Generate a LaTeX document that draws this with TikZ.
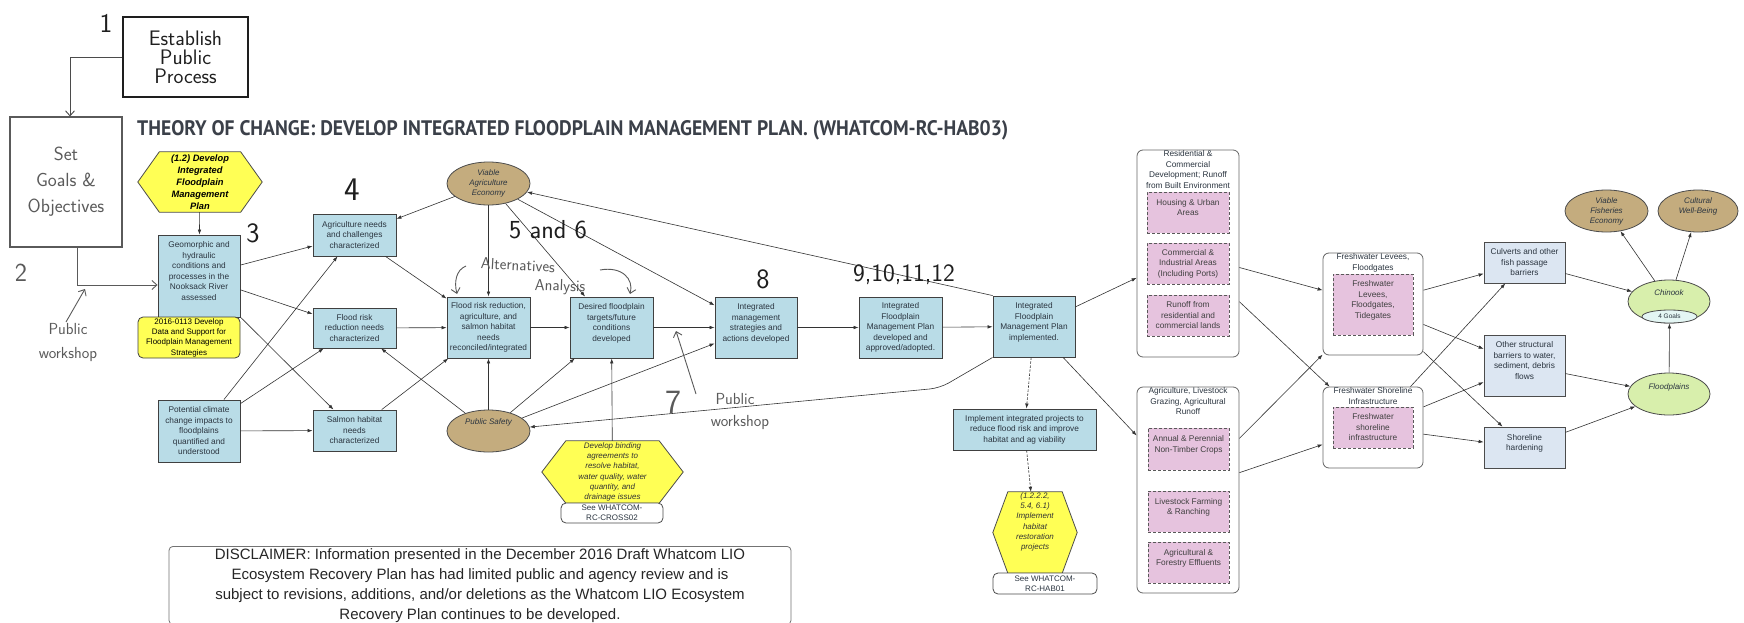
\documentclass[tikz,border=0pt]{standalone}
\usepackage{graphicx}
\usepackage{fontspec}
\setmainfont{Liberation Sans}
\newfontfamily\titlefont{PT Sans}
\usetikzlibrary{arrows.meta,shapes.geometric,calc,backgrounds}
\definecolor{boxblue}{HTML}{B9DCE7}
\definecolor{paleblue}{HTML}{DCE6F2}
\definecolor{ovtan}{HTML}{C4AC7E}
\definecolor{ovgreen}{HTML}{D8EFAC}
\definecolor{goalfill}{HTML}{E4F6F4}
\definecolor{hexyellow}{HTML}{FFFF55}
\definecolor{pinkin}{HTML}{E6C3DE}
\definecolor{linec}{HTML}{333333}
\definecolor{txtc}{HTML}{2B3540}
\definecolor{handc}{HTML}{5A5A5A}
\definecolor{handdark}{HTML}{1E1E1E}
\definecolor{titlec}{HTML}{3B4049}
\newcommand{\xl}{\\\mbox{}}
\newcommand{\hexpoly}[3]{%
  \begin{scope}[on background layer]
  \draw[#3] (#1.west) -- ([xshift=#2pt]#1.north west) -- ([xshift=-#2pt]#1.north east) -- (#1.east)
    -- ([xshift=-#2pt]#1.south east) -- ([xshift=#2pt]#1.south west) -- cycle;
  \end{scope}}
\begin{document}
\begin{tikzpicture}[x=1pt,y=-1pt,
  base/.style={inner sep=0pt, align=center, text=txtc, font=\fontsize{8.3}{10.5}\selectfont},
  sz/.style 2 args={minimum width=#1pt, minimum height=#2pt},
  bbox/.style={base, draw=black!75, line width=0.9pt, fill=boxblue},
  pbox/.style={base, draw=black!70, line width=0.8pt, fill=paleblue},
  grp/.style={draw=black!60, line width=0.8pt, fill=white, rounded corners=6pt, inner sep=0pt},
  gtitle/.style={base, anchor=north},
  pinkbox/.style={base, draw=black!65, dash pattern=on 3pt off 2pt, line width=0.9pt, fill=pinkin, text=black!75},
  oval/.style={ellipse, inner sep=0pt, draw=black!70, line width=0.8pt},
  etext/.style={base, font=\itshape\fontsize{8}{10}\selectfont},
  hexfill/.style={draw=black!70, line width=0.8pt, fill=hexyellow},
  seebox/.style={base, draw=black!70, line width=0.8pt, fill=white, rounded corners=5pt, font=\fontsize{8}{10}\selectfont},
  con/.style={draw=linec, line width=0.6pt, -{Latex[length=5pt,width=3.6pt]}},
  dcon/.style={con, dash pattern=on 2.5pt off 1.5pt},
  harrow/.style={draw=handc, line width=0.9pt, -{Straight Barb[length=5pt,width=9pt]}},
  handbox/.style={draw=#1, line width=1.1pt, inner sep=0pt, align=center, text=#1},
  hand/.style={inner sep=0pt, align=center, text=handdark, font=\sffamily\fontsize{#1}{#1}\selectfont},
  ghand/.style={inner sep=0pt, align=center, text=handc, font=\sffamily\fontsize{#1}{#1}\selectfont}
]
\begin{scope}[on background layer]
\fill[white] (0,0) rectangle (1744,623);
\end{scope}
\useasboundingbox (0,0) rectangle (1744,623);

% ---------- title ----------
\node[anchor=base west, inner sep=0pt, text=titlec] (title) at (137,135)
  {\resizebox{871pt}{15pt}{\titlefont\bfseries THEORY OF CHANGE: DEVELOP INTEGRATED FLOODPLAIN MANAGEMENT PLAN. (WHATCOM-RC-HAB03)}};

% ---------- hand-drawn boxes ----------
\node[handbox=handdark, sz={125}{80}, font=\sffamily\fontsize{21}{19}\selectfont] (establish) at (185.5,57) {Establish\\Public\\Process};
\node[handbox=handc, sz={112}{130}, font=\sffamily\fontsize{19}{26}\selectfont] (setgoals) at (66,182) {Set\\Goals \&\\Objectives};

% ---------- left column ----------
\node[base, sz={124}{60}, font=\bfseries\itshape\fontsize{9.3}{12}\selectfont, text=black] (hex12) at (200,182)
  {(1.2) Develop\\Integrated\\Floodplain\\Management\\Plan};
\hexpoly{hex12}{21.5}{hexfill}
\node[bbox, sz={82}{82}] (geo) at (199,276) {Geomorphic and\\hydraulic\\conditions and\\processes in the\\Nooksack River\\assessed\xl};
\node[base, draw=black!75, line width=0.8pt, fill=hexyellow, rounded corners=5pt, sz={102}{41}, text=black, font=\fontsize{8}{10.3}\selectfont] (data) at (189,337.5)
  {2016-0113 Develop\\Data and Support for\\Floodplain Management\\Strategies};
\node[bbox, sz={82}{62}] (climate) at (199,431) {Potential climate\\change impacts to\\floodplains\\quantified and\\understood};

\node[bbox, sz={83}{42}] (ag) at (354.5,235) {Agriculture needs\\and challenges\\characterized};
\node[bbox, sz={83}{40}] (fneeds) at (354.5,328) {Flood risk\\reduction needs\\characterized};
\node[bbox, sz={83}{41}] (salmon) at (354.5,430.5) {Salmon habitat\\needs\\characterized};

% ---------- ellipses (middle) ----------
\node[oval, fill=ovtan, sz={83}{43}] (vae) at (488.5,183.5) {};
\node[etext] at (488.5,183.5) {Viable\\Agriculture\\Economy};
\node[oval, fill=ovtan, sz={83}{42}] (ps) at (488.5,431) {};
\node[etext] at (488.5,422) {Public Safety};

\node[bbox, sz={83}{61}] (recon) at (488.5,327.5) {Flood risk reduction,\\agriculture, and\\salmon habitat\\needs\\reconciled/integrated};
\node[bbox, sz={83}{61}] (desired) at (611.5,327.5) {Desired floodplain\\targets/future\\conditions\\developed\xl};
\node[bbox, sz={82}{61}] (ims) at (756,327.5) {Integrated\\management\\strategies and\\actions developed\xl};
\node[bbox, sz={83}{61}] (ifdev) at (900.5,327.5) {Integrated\\Floodplain\\Management Plan\\developed and\\approved/adopted.};
\node[bbox, sz={82}{61}] (ifimp) at (1034,326.5) {Integrated\\Floodplain\\Management Plan\\implemented.\xl};

\node[base, sz={141}{62}, font=\itshape\fontsize{8}{10.3}\selectfont, text=black!80] (binding) at (612.5,472)
  {Develop binding\\agreements to\\resolve habitat,\\water quality, water\\quantity, and\\drainage issues};
\hexpoly{binding}{24}{hexfill}
\node[seebox, sz={102}{20}] (seecross) at (612,513) {See WHATCOM-\\RC-CROSS02};

\node[bbox, sz={143}{41}] (implproj) at (1024.5,429.5) {Implement integrated projects to\\reduce flood risk and improve\\habitat and ag viability};
\node[base, sz={84}{81}] (habhex) at (1035,532.5) {};
\hexpoly{habhex}{15}{hexfill}
\node[base, font=\itshape\fontsize{8}{10.3}\selectfont, text=black!80] at (1035,522) {(1.2.2.2,\\5.4, 6.1)\\Implement\\habitat\\restoration\\projects};
\node[seebox, sz={104}{21}] (seehab) at (1045,583.5) {See WHATCOM-\\RC-HAB01};

% ---------- pressure groups ----------
\node[grp, sz={102}{207}] (resgrp) at (1188,253.5) {};
\node[gtitle] at ([yshift=-1pt]resgrp.north) {Residential \&\\Commercial\\Development; Runoff\\from Built Environment};
\node[pinkbox, sz={82}{41}] (housing) at (1188,212.5) {Housing \& Urban\\Areas\xl};
\node[pinkbox, sz={82}{41}] (commercial) at (1188,263.5) {Commercial \&\\Industrial Areas\\(Including Ports)};
\node[pinkbox, sz={82}{41}] (runoff) at (1188,315.5) {Runoff from\\residential and\\commercial lands};

\node[grp, sz={102}{206}] (agrgrp) at (1188,490) {};
\node[gtitle] at ([yshift=-1pt]agrgrp.north) {Agriculture, Livestock\\Grazing, Agricultural\\Runoff};
\node[pinkbox, sz={81}{42}] (annual) at (1188.5,449) {Annual \& Perennial\\Non-Timber Crops\xl};
\node[pinkbox, sz={81}{41}] (livestock) at (1188.5,511.5) {Livestock Farming\\\& Ranching\xl};
\node[pinkbox, sz={81}{41}] (effluents) at (1188.5,562.5) {Agricultural \&\\Forestry Effluents\xl};

\node[grp, sz={100}{102}] (levgrp) at (1373,304) {};
\node[gtitle] at ([yshift=-1pt]levgrp.north) {Freshwater Levees,\\Floodgates};
\node[pinkbox, sz={80}{61}] (levin) at (1373,304.5) {Freshwater\\Levees,\\Floodgates,\\Tidegates\xl};

\node[grp, sz={100}{81}] (shogrp) at (1373,427.5) {};
\node[gtitle] at ([yshift=-1pt]shogrp.north) {Freshwater Shoreline\\Infrastructure};
\node[pinkbox, sz={80}{41}] (shoin) at (1373,427.5) {Freshwater\\shoreline\\infrastructure};

\node[pbox, sz={81}{41}] (culverts) at (1524.5,262.5) {Culverts and other\\fish passage\\barriers};
\node[pbox, sz={81}{61}] (otherstr) at (1524.5,365.5) {Other structural\\barriers to water,\\sediment, debris\\flows\xl};
\node[pbox, sz={81}{41}] (shorehard) at (1524.5,447.5) {Shoreline\\hardening\xl};

% ---------- endpoints ----------
\node[oval, fill=ovgreen, sz={82}{43}] (chinook) at (1669,301.5) {};
\node[etext] at (1669,293) {Chinook};
\node[oval, fill=goalfill, sz={55}{13}] (goals4) at (1669.5,316.5) {};
\node[base, font=\fontsize{6.5}{8}\selectfont] at (1669.5,316.5) {4 Goals};
\node[oval, fill=ovgreen, sz={82}{42}] (floodplains) at (1669,394) {};
\node[etext] at (1669,387) {Floodplains};
\node[oval, fill=ovtan, sz={83}{42}] (vfe) at (1606.5,211) {};
\node[etext] at (1606.5,211) {Viable\\Fisheries\\Economy};
\node[oval, fill=ovtan, sz={80}{42}] (cwb) at (1698,211) {};
\node[etext] at (1698,206) {Cultural\\Well-Being};

% ---------- disclaimer ----------
\node[draw=black!55, line width=0.8pt, rounded corners=4pt, anchor=north, minimum width=622pt, inner xsep=0pt, inner ysep=2pt,
  align=center, font=\fontsize{15}{20}\selectfont, text=black!85] (disc) at (480,546)
  {DISCLAIMER: Information presented in the December 2016 Draft Whatcom LIO\\Ecosystem Recovery Plan has had limited public and agency review and is\\subject to revisions, additions, and/or deletions as the Whatcom LIO Ecosystem\\Recovery Plan continues to be developed.};

% ---------- connectors ----------
\draw[con] (hex12) -- (geo);
\draw[con] (geo) -- (ag);
\draw[con] (geo) -- (fneeds);
\draw[con] (geo) -- (salmon);
\draw[con] (climate) -- (ag);
\draw[con] (climate) -- (fneeds);
\draw[con] (climate) -- (salmon);
\draw[con] (vae) -- (ag);
\draw[con] (ag) -- (recon);
\draw[con] (fneeds) -- (recon);
\draw[con] (salmon) -- (recon);
\draw[con] (ps) -- (fneeds);
\draw[con] (ps) -- (recon);
\draw[con] (vae) -- (recon);
\draw[con] (vae) -- (desired);
\draw[con] (vae) -- (ims);
\draw[con] (ps) -- (desired);
\draw[con] (ps) -- (ims);
\draw[con] (recon) -- (desired);
\draw[con] (desired) -- (ims);
\draw[con] (binding) -- (desired);
\draw[con] (ims) -- (ifdev);
\draw[con] (ifdev) -- (ifimp);
\draw[con] (ifimp.north west) -- (vae);
\coordinate (psbend) at (940,388);
\draw[con, rounded corners=10pt] (ifimp.south west) -- (psbend) -- (ps);
\draw[con] (ifimp) -- (resgrp);
\draw[con] (ifimp) -- (agrgrp);
\draw[dcon] (ifimp) -- (implproj);
\draw[dcon] (implproj) -- (habhex);
\draw[con] (resgrp) -- (levgrp);
\draw[con] (resgrp) -- (shogrp);
\draw[con] (agrgrp) -- (levgrp);
\draw[con] (agrgrp) -- (shogrp);
\draw[con] (levgrp) -- (culverts);
\draw[con] (levgrp) -- (otherstr);
\draw[con] (levgrp) -- (shorehard);
\draw[con] (shogrp) -- (culverts);
\draw[con] (shogrp) -- (otherstr);
\draw[con] (shogrp) -- (shorehard);
\draw[con] (culverts) -- (chinook);
\draw[con] (otherstr) -- (floodplains);
\draw[con] (shorehard) -- (floodplains);
\draw[con] (floodplains) -- (goals4);
\draw[con] (chinook) -- (vfe);
\draw[con] (chinook) -- (cwb);

% ---------- hand-drawn annotations ----------
\coordinate (epb) at (70,57);
\draw[harrow, draw=handdark!80] (establish.west) -- (epb) -- (epb |- setgoals.north);
\coordinate (sgb) at (77,285);
\draw[harrow] (setgoals.south -| sgb) -- (sgb) -- (sgb -| geo.west);
\coordinate (pwa) at (66,322);
\coordinate (pwb) at (85,289);
\draw[harrow] (pwa) -- (pwb);
\coordinate (pwc) at (696,394);
\coordinate (pwd) at (676,331);
\draw[harrow] (pwc) -- (pwd);
\coordinate (alA) at (466,266);
\coordinate (alB) at (457,294);
\draw[harrow] (alA) .. controls (456,270) and (454,282) .. (alB);
\coordinate (alC) at (600,270);
\coordinate (alD) at (630,294);
\draw[harrow] (alC) .. controls (622,266) and (634,279) .. (alD);

\node[hand=27] (n1) at (106,23) {1};
\node[ghand=26] (n2) at (21,273) {2};
\node[ghand=16] (pw1) at (68,343) {Public\\[8pt]workshop};
\node[hand=28] (n3) at (253,233) {3};
\node[hand=33] (n4) at (352,190) {4};
\node[hand=26] (n56) at (548,230) {5 and 6};
\node[ghand=16, rotate=-3] (alt1) at (518,265) {Alternatives};
\node[ghand=16, rotate=-2] (alt2) at (560,287) {Analysis};
\node[hand=28] (n8) at (763,279) {8};
\node[hand=25] (n912) at (904,275) {9,10,11,12};
\node[ghand=34] (n7) at (673,402) {7};
\node[ghand=16] (pw2) at (735,412) {Public\\[6pt]\hspace*{10pt}workshop};
\end{tikzpicture}
\end{document}
